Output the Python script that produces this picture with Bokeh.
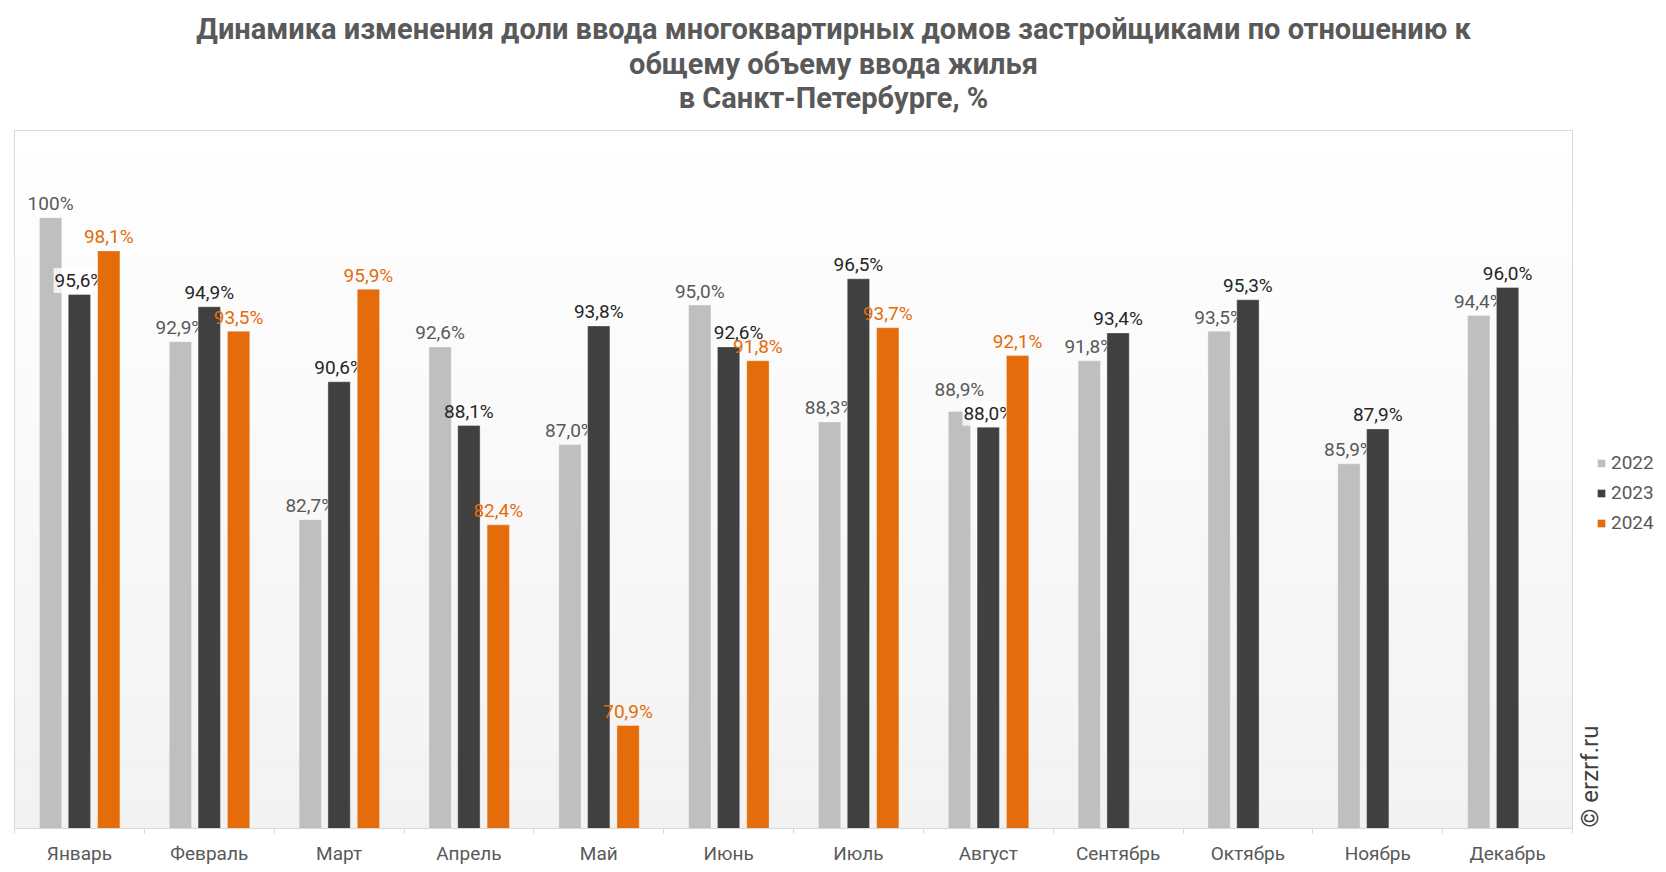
import numpy as np
from bokeh.plotting import figure
from bokeh.models import Range1d, FixedTicker, Label, Legend, LegendItem, ColumnDataSource
from bokeh.embed import file_html
from bokeh.resources import INLINE
from bokeh.core.properties import value

# ---------------- data ----------------
title_lines = [
    "Динамика изменения доли ввода многоквартирных домов застройщиками по отношению к",
    "общему объему ввода жилья",
    "в Санкт-Петербурге, %",
]
months = ["Январь", "Февраль", "Март", "Апрель", "Май", "Июнь",
          "Июль", "Август", "Сентябрь", "Октябрь", "Ноябрь", "Декабрь"]
years = ["2022", "2023", "2024"]
v2022 = [100.0, 92.9, 82.7, 92.6, 87.0, 95.0, 88.3, 88.9, 91.8, 93.5, 85.9, 94.4]
v2023 = [95.6, 94.9, 90.6, 88.1, 93.8, 92.6, 96.5, 88.0, 93.4, 95.3, 87.9, 96.0]
v2024 = [98.1, 93.5, 95.9, 82.4, 70.9, 91.8, 93.7, 92.1]
watermark = "© erzrf.ru"
y_min, y_max = 65, 105

# ---------------- style / layout ----------------
bar_colors = ["#bfbfbf", "#404040", "#e46c0a"]
label_colors = ["#595959", "#262626", "#e46c0a"]
offsets = [-0.222, 0.0, 0.226]
bar_w = 0.172
FONT = "Roboto"
# label tweaks: (series index, month index) -> (dx px, dy px, boxed)
label_tweaks = {(1, 0): (0, 0, True), (1, 7): (0, 0, True),
                (1, 5): (10, 0, False), (0, 7): (0, -8, False)}

W, H = 1666, 872
PA_L, PA_R, PA_T, PA_B = 14, 1572, 130, 828   # plot-area box in page px
ncat = len(months)
x_lo, x_hi = -0.5, ncat - 0.5
xs_per_px = (x_hi - x_lo) / (PA_R - PA_L)
ys_per_px = (y_max - y_min) / (PA_B - PA_T)
x_start = x_lo - PA_L * xs_per_px
x_end = x_hi + (W - PA_R) * xs_per_px
y_end = y_max + PA_T * ys_per_px

p = figure(width=W, height=H, x_range=Range1d(x_start, x_end), y_range=Range1d(y_min, y_end),
           output_backend="svg", toolbar_location=None, y_axis_location=None,
           min_border_left=0, min_border_right=0, min_border_top=0,
           min_border_bottom=H - PA_B)
p.background_fill_color = "white"
p.border_fill_color = "white"
p.outline_line_color = None
p.grid.visible = False

# gradient plot-area background (white at top to #f2f2f2 at bottom)
n = 80
edges = np.linspace(y_min, y_max, n + 1)
t = (edges[:-1] + edges[1:]) / 2
t = (t - y_min) / (y_max - y_min)
lv = (242 + (255 - 242) * t).round().astype(int)
gcols = ["#%02x%02x%02x" % (c, c, c) for c in lv]
p.quad(left=x_lo, right=x_hi, bottom=edges[:-1], top=edges[1:],
       fill_color=gcols, line_color=gcols, line_width=1)
p.quad(left=x_lo, right=x_hi, bottom=y_min, top=y_max, fill_color=None,
       line_color="#d9d9d9", line_width=1)

series = [v2022, v2023, v2024]
renderers = []
for k, vals in enumerate(series):
    xs = [i + offsets[k] for i in range(len(vals))]
    r = p.vbar(x=xs, top=vals, bottom=y_min, width=bar_w, fill_color=bar_colors[k],
               line_color="white", line_alpha=0.35, line_width=1)
    renderers.append(r)

    texts, dx, dy, bga = [], [], [], []
    for i, v in enumerate(vals):
        s = "100%" if v == 100 else ("%.1f" % v).replace(".", ",") + "%"
        texts.append(s)
        tw = label_tweaks.get((k, i), (0, 0, False))
        dx.append(tw[0])
        dy.append(-14 + tw[1])
        bga.append(0.8 if tw[2] else 0.0)
    src = ColumnDataSource(dict(x=xs, y=vals, text=texts, dx=dx, dy=dy, bga=bga))
    p.text(x="x", y="y", text="text", source=src, x_offset="dx", y_offset="dy",
           text_align="center", text_baseline="alphabetic",
           text_font=value(FONT), text_font_size="19px", text_color=label_colors[k],
           background_fill_color="white", background_fill_alpha="bga", padding=1)

# x axis: labels at category centres, small ticks at boundaries
ax = p.xaxis[0]
ax.bounds = (x_lo, x_hi)
ax.ticker = FixedTicker(ticks=list(range(ncat)),
                        minor_ticks=[i - 0.5 for i in range(ncat + 1)])
ax.major_label_overrides = {i: m for i, m in enumerate(months)}
ax.major_tick_line_color = None
ax.major_tick_in = 0
ax.major_tick_out = 0
ax.minor_tick_in = 0
ax.minor_tick_out = 5
ax.minor_tick_line_color = "#d9d9d9"
ax.axis_line_color = "#d9d9d9"
ax.major_label_text_font = FONT
ax.major_label_text_font_size = "19px"
ax.major_label_text_color = "#595959"
ax.major_label_standoff = 8

# legend (screen units relative to the frame's bottom-left)
legend = Legend(items=[LegendItem(label=y, renderers=[r]) for y, r in zip(years, renderers)],
                location=(1596, PA_B - 534), glyph_width=10, glyph_height=10, label_standoff=5,
                label_text_font=FONT, label_text_font_size="19px", label_text_color="#595959",
                border_line_color=None, background_fill_alpha=0, padding=0, margin=0,
                spacing=7, label_height=10)
p.add_layout(legend)

# title
for line, yb in zip(title_lines, [28, 63, 97]):
    p.add_layout(Label(x=W / 2, y=PA_B - yb, x_units="screen", y_units="screen",
                       text=line, text_align="center", text_baseline="alphabetic",
                       text_font=FONT, text_font_style="bold", text_font_size="29px",
                       text_color="#595959"))

# watermark
p.add_layout(Label(x=1589, y=1, x_units="screen", y_units="screen", angle=np.pi / 2,
                   text=watermark, text_align="left", text_baseline="middle",
                   text_font=FONT, text_font_size="24px", text_color="#404040"))

open("out.html", "w").write(file_html(p, INLINE))
